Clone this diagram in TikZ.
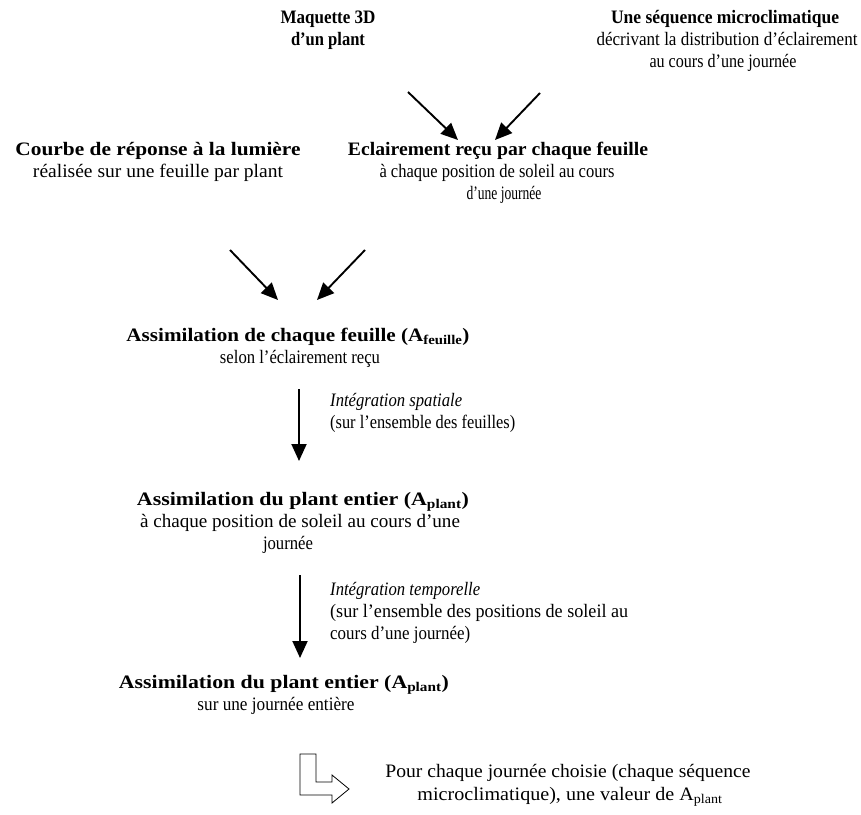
\documentclass[tikz,border=0pt]{standalone}
\usepackage{fontspec}
\usepackage{graphicx}
\setmainfont{Liberation Serif}
\usetikzlibrary{arrows.meta}
\newcommand{\fw}[2]{\resizebox{#1pt}{\height}{#2}}
\begin{document}
\begin{tikzpicture}[x=1pt,y=-1pt,
  ln/.style={anchor=base,inner sep=0pt,font=\fontsize{19}{22}\selectfont},
  lnl/.style={anchor=base west,inner sep=0pt,font=\fontsize{19}{22}\selectfont},
  arr/.style={line width=1.9pt,-{Triangle[length=17pt,width=15pt]}},
  block/.style={draw,line width=0.8pt,fill=white}]
\useasboundingbox (0,0) rectangle (861,814);
% top
\node[ln] (maq1) at (328,23) {\fw{95}{\textbf{Maquette 3D}}};
\node[ln] (maq2) at (328,45) {\fw{74}{\textbf{d’un plant}}};
\node[ln] (seq1) at (725,23) {\fw{228}{\textbf{Une séquence microclimatique}}};
\node[ln] (seq2) at (727,45) {\fw{261}{décrivant la distribution d’éclairement}};
\node[ln] (seq3) at (723,67) {\fw{147}{au cours d’une journée}};
% second row
\node[ln] (cou1) at (158,155) {\fw{285}{\textbf{Courbe de réponse à la lumière}}};
\node[ln] (cou2) at (158,177) {\fw{250}{réalisée sur une feuille par plant}};
\node[ln] (ecl1) at (498,155) {\fw{300}{\textbf{Eclairement reçu par chaque feuille}}};
\node[ln] (ecl2) at (497,177) {\fw{235}{à chaque position de soleil au cours}};
\node[ln] (ecl3) at (504,199) {\fw{75}{d’une journée}};
% leaf assimilation
\node[ln] (af1) at (298,341) {\fw{343}{\textbf{Assimilation de chaque feuille (A\textsubscript{feuille})}}};
\node[ln] (af2) at (300,363) {\fw{160}{selon l’éclairement reçu}};
\node[lnl] (int1a) at (330,406) {\fw{132}{\textit{Intégration spatiale}}};
\node[lnl] (int1b) at (330,428) {\fw{185}{(sur l’ensemble des feuilles)}};
% plant assimilation
\node[ln] (ap1) at (303,505) {\fw{332}{\textbf{Assimilation du plant entier (A\textsubscript{plant})}}};
\node[ln] (ap2) at (300,527) {\fw{320}{à chaque position de soleil au cours d’une}};
\node[ln] (ap3) at (288,549) {\fw{50}{journée}};
\node[lnl] (int2a) at (330,595) {\fw{150}{\textit{Intégration temporelle}}};
\node[lnl] (int2b) at (330,617) {\fw{298}{(sur l’ensemble des positions de soleil au}};
\node[lnl] (int2c) at (330,639) {\fw{140}{cours d’une journée)}};
% day assimilation
\node[ln] (aj1) at (284,688) {\fw{330}{\textbf{Assimilation du plant entier (A\textsubscript{plant})}}};
\node[ln] (aj2) at (276,710) {\fw{157}{sur une journée entière}};
\node[ln] (fin1) at (568,777) {\fw{365}{Pour chaque journée choisie (chaque séquence}};
\node[ln] (fin2) at (570,800) {\fw{305}{microclimatique), une valeur de A\textsubscript{plant}}};
% arrows
\coordinate (a1s) at (408,92);  \coordinate (a1e) at (458,140);
\coordinate (a2s) at (540,93);  \coordinate (a2e) at (495,140);
\coordinate (a3s) at (230,250); \coordinate (a3e) at (278,300);
\coordinate (a4s) at (365,250); \coordinate (a4e) at (317,300);
\coordinate (v1s) at (299,389); \coordinate (v1e) at (299,461);
\coordinate (v2s) at (300,575); \coordinate (v2e) at (300,658);
\draw[arr] (a1s) -- (a1e);
\draw[arr] (a2s) -- (a2e);
\draw[arr] (a3s) -- (a3e);
\draw[arr] (a4s) -- (a4e);
\draw[arr] (v1s) -- (v1e);
\draw[arr] (v2s) -- (v2e);
\draw[block] (300,754) -- (316,754) -- (316,782) -- (332,782) -- (332,775) -- (349,789) -- (332,803) -- (332,795) -- (300,795) -- cycle;
\end{tikzpicture}
\end{document}
